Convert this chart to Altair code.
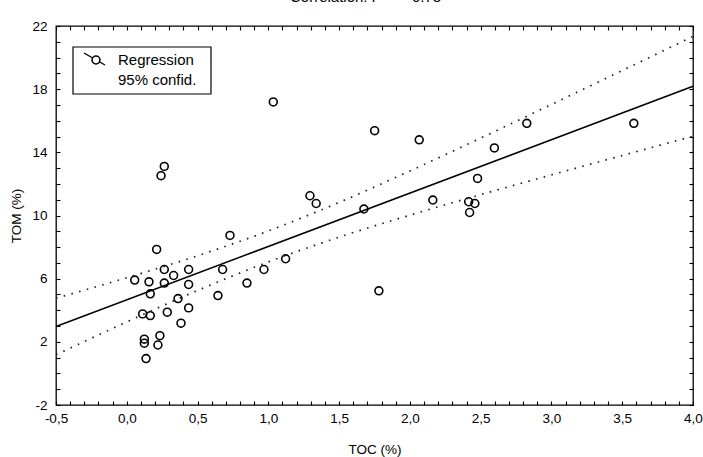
import altair as alt
import numpy as np
import pandas as pd

# Sample measurements: total organic carbon vs total organic matter (%)
toc = [1.035, 0.265, 0.242, 1.751, 2.066, 2.826, 3.582, 2.597,
       1.294, 1.338, 1.675, 2.162, 2.478, 2.415, 2.459, 2.422, 1.781,
       0.729, 0.211, 0.056, 0.157, 0.166, 0.265, 0.265, 0.331, 0.437, 0.437, 0.362,
       0.437, 0.383, 0.286, 0.112, 0.166, 0.234, 0.124, 0.124, 0.136, 0.220,
       0.644, 0.677, 0.849, 0.969, 1.122]
tom = [17.19, 13.11, 12.52, 15.37, 14.79, 15.84, 15.84, 14.28,
       11.25, 10.76, 10.41, 10.98, 12.35, 10.87, 10.76, 10.19, 5.23,
       8.74, 7.85, 5.91, 5.80, 5.04, 6.58, 5.72, 6.20, 6.58, 5.63, 4.74,
       4.15, 3.18, 3.88, 3.77, 3.66, 2.39, 2.17, 1.91, 0.94, 1.80,
       4.93, 6.58, 5.72, 6.58, 7.26]

# Regression line and its 95% confidence limits
fit_x = [-0.5, 4.0]
fit_y = [2.97, 18.18]
band_x = [-0.5, 0.0, 0.5, 1.0, 1.5, 2.0, 2.5, 3.0, 3.5, 4.0]
band_upper = [4.76, 6.06, 7.45, 9.02, 10.83, 12.82, 14.90, 17.03, 19.18, 21.34]
band_lower = [1.18, 3.26, 5.25, 7.06, 8.63, 10.02, 11.32, 12.57, 13.80, 15.02]

# Axis ticks: labelled majors plus unlabelled minors
x_major = [-0.5, 0.0, 0.5, 1.0, 1.5, 2.0, 2.5, 3.0, 3.5, 4.0]
x_ticks = [round(-0.5 + 0.1 * i, 1) for i in range(46)]
y_major = [-2, 2, 6, 10, 14, 18, 22]
y_ticks = list(range(-2, 23))

legend_labels = ["Regression", "95% confid."]

r_value = float(np.corrcoef(toc, tom)[0, 1])

FONT = "Liberation Sans"
W, H = 637, 379

df_pts = pd.DataFrame({"TOC": toc, "TOM": tom})
df_fit = pd.DataFrame({"TOC": fit_x, "TOM": fit_y})
df_band = pd.concat([
    pd.DataFrame({"TOC": band_x, "TOM": band_upper, "bound": "upper"}),
    pd.DataFrame({"TOC": band_x, "TOM": band_lower, "bound": "lower"}),
])
df_one = pd.DataFrame({"k": [0]})

xs = alt.Scale(domain=[x_major[0], x_major[-1]], nice=False, zero=False)
ys = alt.Scale(domain=[y_major[0], y_major[-1]], nice=False, zero=False)

x_label_expr = (
    "abs(datum.value*2 - round(datum.value*2)) < 0.001 ? "
    "(datum.value < -0.001 ? '-' : '') + replace(format(abs(datum.value), '.1f'), '.', ',') : ''"
)
y_label_expr = (
    "(round(datum.value) + 2) % 4 == 0 ? "
    "(datum.value < 0 ? '-' : '') + format(abs(datum.value), 'd') : ''"
)

tick_style = dict(offset=-4, tickSize=4, tickWidth=1.1, tickColor="black",
                  domain=False, grid=False, labelOverlap=False)

x_bottom = alt.Axis(orient="bottom", values=x_ticks, labelExpr=x_label_expr,
                    labelFlush=False, labelPadding=6, title="TOC (%)",
                    titlePadding=18, **tick_style)
y_left = alt.Axis(orient="left", values=y_ticks, labelExpr=y_label_expr,
                  labelFlush=False, labelPadding=9, title="TOM (%)",
                  titlePadding=8, **tick_style)
x_top = alt.Axis(orient="top", values=x_ticks, labels=False, title=None, **tick_style)
y_right = alt.Axis(orient="right", values=y_ticks, labels=False, title=None, **tick_style)

points = alt.Chart(df_pts).mark_point(
    shape="circle", filled=False, color="black", size=62, strokeWidth=1.6, opacity=1
).encode(
    x=alt.X("TOC:Q", scale=xs, axis=x_bottom),
    y=alt.Y("TOM:Q", scale=ys, axis=y_left),
)

fit = alt.Chart(df_fit).mark_line(color="black", strokeWidth=1.5).encode(
    x=alt.X("TOC:Q", scale=xs, axis=x_top),
    y=alt.Y("TOM:Q", scale=ys, axis=y_right),
)

band = alt.Chart(df_band).mark_line(
    color="#222222", strokeWidth=1.7, strokeDash=[1.6, 6.4], interpolate="monotone"
).encode(
    x=alt.X("TOC:Q", scale=xs, axis=None),
    y=alt.Y("TOM:Q", scale=ys, axis=None),
    detail="bound:N",
)

# Legend box in the upper-left corner
leg_box = alt.Chart(df_one).mark_rect(fill="white", stroke="black", strokeWidth=1.2).encode(
    x=alt.value(17), x2=alt.value(155), y=alt.value(21), y2=alt.value(68)
)
leg_rule = alt.Chart(df_one).mark_rule(color="black", strokeWidth=1.4).encode(
    x=alt.value(28), x2=alt.value(49), y=alt.value(27), y2=alt.value(39)
)
leg_pt = alt.Chart(df_one).mark_point(
    shape="circle", filled=True, fill="white", stroke="black", size=62, strokeWidth=1.6, opacity=1
).encode(x=alt.value(40), y=alt.value(34))
leg_txt1 = alt.Chart(df_one).mark_text(
    align="left", baseline="middle", font=FONT, fontSize=15, color="black"
).encode(x=alt.value(62), y=alt.value(34), text=alt.value(legend_labels[0]))
leg_txt2 = alt.Chart(df_one).mark_text(
    align="left", baseline="middle", font=FONT, fontSize=15, color="black"
).encode(x=alt.value(62), y=alt.value(54), text=alt.value(legend_labels[1]))

# Heading above the plot
head1 = alt.Chart(df_one).mark_text(
    align="left", baseline="alphabetic", font=FONT, fontSize=15, color="black"
).encode(x=alt.value(234), y=alt.value(-24), text=alt.value("Correlation: r ="))
head2 = alt.Chart(df_one).mark_text(
    align="left", baseline="alphabetic", font=FONT, fontSize=15, color="black"
).encode(x=alt.value(356), y=alt.value(-24), text=alt.value(f"{r_value:.2f}"))

chart = alt.layer(
    points, fit, band, leg_box, leg_rule, leg_pt, leg_txt1, leg_txt2, head1, head2
).resolve_axis(
    x="independent", y="independent"
).properties(
    width=W, height=H,
    padding={"left": 56, "top": 26, "right": 10, "bottom": 52},
    autosize=alt.AutoSizeParams(type="none"),
    background="white",
).configure_view(
    stroke="black", strokeWidth=1.3
).configure_axis(
    labelFont=FONT, labelFontSize=13.5, labelColor="black",
    titleFont=FONT, titleFontSize=13.5, titleColor="black", titleFontWeight="normal",
)

chart.save("out.html", embed_options={"renderer": "svg", "actions": False})
